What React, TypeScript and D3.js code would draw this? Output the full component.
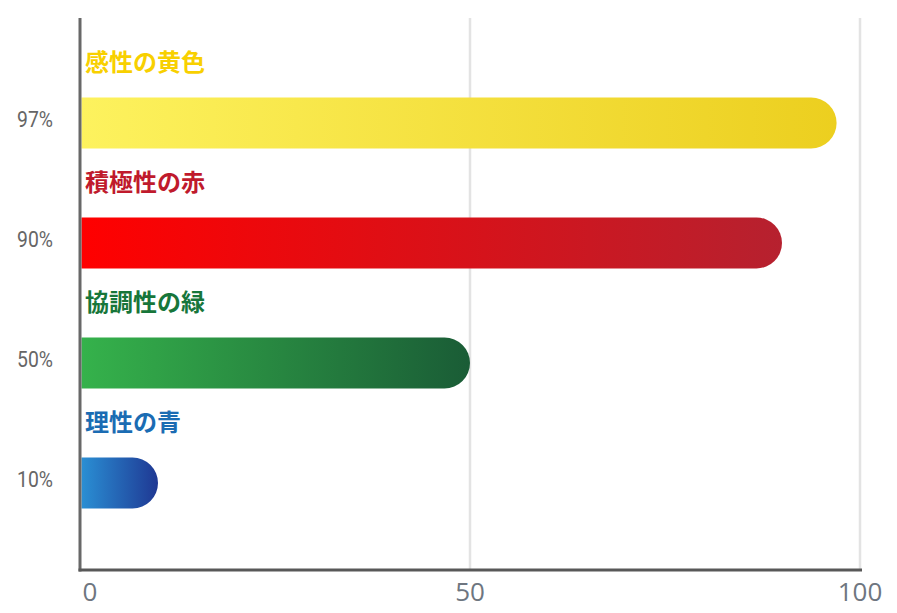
import React from "react";
import * as d3 from "d3";

const categories = ["感性の黄色", "積極性の赤", "協調性の緑", "理性の青"];
const values = [97, 90, 50, 10];
const percentLabels = ["97%", "90%", "50%", "10%"];
const xTicks = [0, 50, 100];
const gridTicks = [50, 100];
const labelColors = ["#f8d000", "#c01a2c", "#17763a", "#1b6cb3"];
const gradStops = [
  ["#fdf25e", "#eccf1f"],
  ["#ff0000", "#b6212f"],
  ["#35b24b", "#1a5c36"],
  ["#2a8fd4", "#1f3893"],
];

export default function App() {
  const W = 897;
  const H = 613;
  const x = d3.scaleLinear().domain([0, 100]).range([80, 860]);
  const y = d3.scaleBand<string>().domain(categories).range([63, 543]).padding(0);
  const barH = 51;
  const top = 18;
  const bottom = 570;

  return (
    <svg width={W} height={H} style={{ position: "absolute", left: 0, top: 0, background: "#fff" }}>
      <defs>
        {gradStops.map((s, i) => (
          <linearGradient key={i} id={`g${i}`} x1="0" x2="1" y1="0" y2="0">
            <stop offset="0%" stopColor={s[0]} />
            <stop offset="100%" stopColor={s[1]} />
          </linearGradient>
        ))}
      </defs>
      {gridTicks.map((t) => (
        <line key={t} x1={x(t)} x2={x(t)} y1={top} y2={bottom} stroke="#e3e3e3" strokeWidth={2.5} />
      ))}
      {categories.map((c, i) => {
        const cy = (y(c) as number) + y.bandwidth() / 2;
        const x0 = x(0) + 1.5;
        const x1 = x(values[i]);
        const r = barH / 2;
        const p = d3.path();
        p.moveTo(x0, cy - r);
        p.lineTo(x1 - r, cy - r);
        p.arc(x1 - r, cy, r, -Math.PI / 2, Math.PI / 2);
        p.lineTo(x0, cy + r);
        p.closePath();
        const ly = cy + 4;
        return (
          <g key={c}>
            <path d={p.toString()} fill={`url(#g${i})`} />
            <text
              x={x(0) + 5}
              y={cy - 52}
              fill={labelColors[i]}
              fontSize={24}
              fontWeight={700}
              fontFamily="'Noto Sans CJK JP', sans-serif"
            >
              {c}
            </text>
            <text
              x={35}
              y={ly}
              textAnchor="middle"
              fill="#666666"
              fontSize={22}
              fontFamily="Roboto, 'Noto Sans', sans-serif"
              transform={`translate(35 ${ly}) scale(0.88 1) translate(-35 ${-ly})`}
            >
              {percentLabels[i]}
            </text>
          </g>
        );
      })}
      <line x1={80} x2={80} y1={top} y2={bottom + 1.5} stroke="#686868" strokeWidth={3} />
      <line x1={78.5} x2={862} y1={bottom} y2={bottom} stroke="#585858" strokeWidth={3} />
      {xTicks.map((t, i) => (
        <text
          key={t}
          x={x(t) + (i === 0 ? 10 : 0)}
          y={601}
          textAnchor="middle"
          fill="#6e7680"
          fontSize={26}
          fontFamily="'Open Sans', sans-serif"
        >
          {t}
        </text>
      ))}
    </svg>
  );
}
